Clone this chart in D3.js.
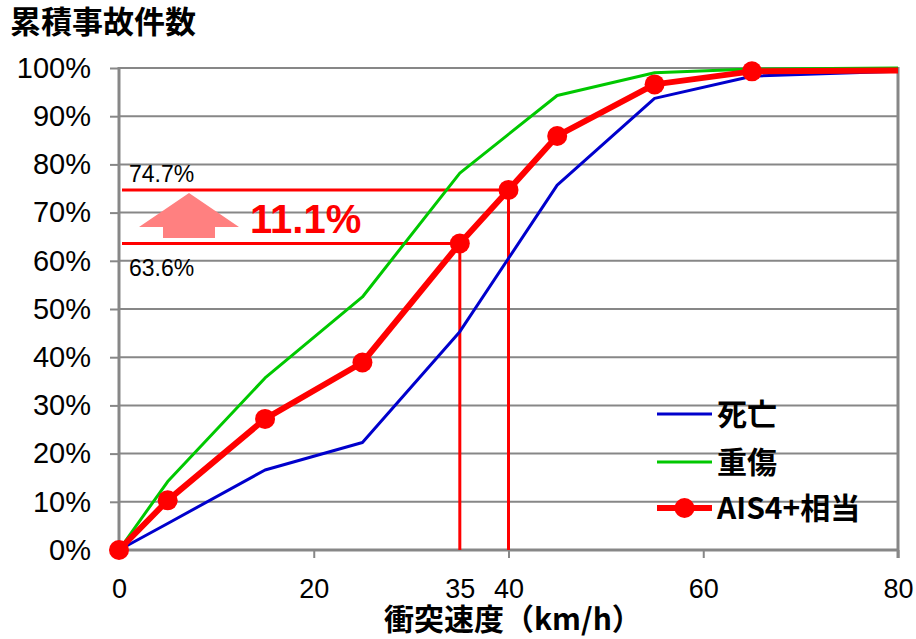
<!DOCTYPE html>
<html>
<head>
<meta charset="utf-8">
<script src="https://cdn.jsdelivr.net/npm/d3@7"></script>
<style>
  html, body { margin: 0; padding: 0; background: #fff; }
  svg { display: block; }
  .num { font-family: "Liberation Sans", Arial, sans-serif; }
  .jp { font-family: "Noto Sans CJK JP", sans-serif; font-weight: bold; }
</style>
</head>
<body>
<svg id="chart" width="916" height="639"></svg>
<script>
// Collision speed (km/h) for each cumulative point
const speeds = [0, 5, 15, 25, 35, 45, 55, 65, 80];
// Cumulative share of accidents for each severity
const fatal   = [0, 0.055, 0.166, 0.223, 0.453, 0.757, 0.937, 0.983, 0.993];
const serious = [0, 0.142, 0.357, 0.525, 0.782, 0.943, 0.990, 0.998, 1.000];
// AIS4+ equivalent curve (includes the 40 km/h point)
const ais4Speeds = [0, 5, 15, 25, 35, 40, 45, 55, 65, 80];
const ais4       = [0, 0.103, 0.272, 0.389, 0.636, 0.747, 0.859, 0.966, 0.993, 0.995];

const yTicks = [0, 0.1, 0.2, 0.3, 0.4, 0.5, 0.6, 0.7, 0.8, 0.9, 1.0];
const xTicks = [0, 20, 40, 60, 80];
const xLabels = [0, 20, 35, 40, 60, 80];

const seriesNames = ["死亡", "重傷", "AIS4+相当"];
const seriesColors = ["#0000cc", "#00c800", "#ff0000"];

// Highlighted comparison: 35 km/h vs 40 km/h
const compareSpeeds = [35, 40];
const compareValues = [0.636, 0.747];
const diffLabel = "11.1%";

const svg = d3.select("#chart");
const x = d3.scaleLinear().domain([0, 80]).range([119, 898]);
const y = d3.scaleLinear().domain([0, 1]).range([550, 68]);
const grid = "#878787";

// horizontal gridlines
svg.append("g").selectAll("line").data(yTicks).join("line")
  .attr("x1", x(0)).attr("x2", x(80))
  .attr("y1", d => y(d)).attr("y2", d => y(d))
  .attr("stroke", grid).attr("stroke-width", 2);

// right border of plot
svg.append("line")
  .attr("x1", x(80)).attr("x2", x(80)).attr("y1", y(1) - 1).attr("y2", y(0) + 8)
  .attr("stroke", grid).attr("stroke-width", 3);

// y axis
const yAxis = svg.append("g").attr("transform", `translate(${x(0)},0)`)
  .call(d3.axisLeft(y).tickValues(yTicks).tickFormat(d3.format(".0%")).tickSize(9).tickPadding(19));
yAxis.select(".domain").attr("stroke", grid).attr("stroke-width", 3)
  .attr("d", `M0,${y(1) - 1}V${y(0)}`);
yAxis.selectAll(".tick line").attr("stroke", grid).attr("stroke-width", 2);
yAxis.selectAll("text").attr("class", "num").attr("font-size", 29).attr("fill", "#000");

// x axis
const xAxis = svg.append("g").attr("transform", `translate(0,${y(0)})`)
  .call(d3.axisBottom(x).tickValues(xLabels).tickFormat(d3.format("d")).tickSize(8).tickPadding(21));
xAxis.select(".domain").attr("stroke", grid).attr("stroke-width", 3)
  .attr("d", `M${x(0)},0H${x(80)}`);
xAxis.selectAll(".tick line").attr("stroke", grid).attr("stroke-width", 2)
  .attr("display", d => xTicks.includes(d) ? null : "none");
xAxis.selectAll("text").attr("class", "num").attr("font-size", 27).attr("fill", "#000");

// titles
svg.append("text").attr("class", "jp").attr("x", 10).attr("y", 33)
  .attr("font-size", 31).text("累積事故件数");
svg.append("text").attr("class", "jp").attr("x", 384).attr("y", 630)
  .attr("font-size", 30).text("衝突速度（km/h）");

// comparison guide lines
const guides = svg.append("g");
compareSpeeds.forEach((s, i) => {
  const v = compareValues[i];
  guides.append("line").attr("x1", 122).attr("x2", x(s)).attr("y1", y(v)).attr("y2", y(v))
    .attr("stroke", "#ff0000").attr("stroke-width", 3);
  guides.append("line").attr("x1", x(s)).attr("x2", x(s)).attr("y1", y(v)).attr("y2", y(0))
    .attr("stroke", "#ff0000").attr("stroke-width", 3);
});
svg.append("text").attr("class", "num").attr("x", 129).attr("y", y(compareValues[1]) - 8)
  .attr("font-size", 23).text(d3.format(".1%")(compareValues[1]));
svg.append("text").attr("class", "num").attr("x", 129).attr("y", y(compareValues[0]) + 33)
  .attr("font-size", 23).text(d3.format(".1%")(compareValues[0]));

// up arrow
svg.append("path")
  .attr("d", "M139,227 L189,193 L239,227 L215,227 L215,238 L163,238 L163,227 Z")
  .attr("fill", "#ff8080");
svg.append("text").attr("class", "num").attr("x", 250).attr("y", 233)
  .attr("font-size", 40).attr("font-weight", "bold").attr("fill", "#ff0000").text(diffLabel);

// data lines
const line = d3.line().x(d => x(d[0])).y(d => y(d[1]));
svg.append("path").datum(speeds.map((s, i) => [s, fatal[i]]))
  .attr("d", line).attr("fill", "none").attr("stroke", seriesColors[0]).attr("stroke-width", 3)
  .attr("stroke-linejoin", "round");
svg.append("path").datum(speeds.map((s, i) => [s, serious[i]]))
  .attr("d", line).attr("fill", "none").attr("stroke", seriesColors[1]).attr("stroke-width", 3)
  .attr("stroke-linejoin", "round");
const aisPts = ais4Speeds.map((s, i) => [s, ais4[i]]);
svg.append("path").datum(aisPts)
  .attr("d", line).attr("fill", "none").attr("stroke", seriesColors[2]).attr("stroke-width", 6)
  .attr("stroke-linejoin", "round");
svg.append("g").selectAll("circle").data(aisPts.filter(d => d[0] < 80)).join("circle")
  .attr("cx", d => x(d[0])).attr("cy", d => y(d[1])).attr("r", 10)
  .attr("fill", seriesColors[2]);

// legend
const legY = [414, 462, 508];
const leg = svg.append("g");
seriesNames.forEach((name, i) => {
  leg.append("line").attr("x1", 657).attr("x2", 712).attr("y1", legY[i]).attr("y2", legY[i])
    .attr("stroke", seriesColors[i]).attr("stroke-width", i === 2 ? 6 : 3);
  if (i === 2) leg.append("circle").attr("cx", 684.5).attr("cy", legY[i]).attr("r", 10).attr("fill", seriesColors[i]);
  leg.append("text").attr("class", "jp").attr("x", 717).attr("y", legY[i] + 11)
    .attr("font-size", 30).text(name);
});
</script>
</body>
</html>
